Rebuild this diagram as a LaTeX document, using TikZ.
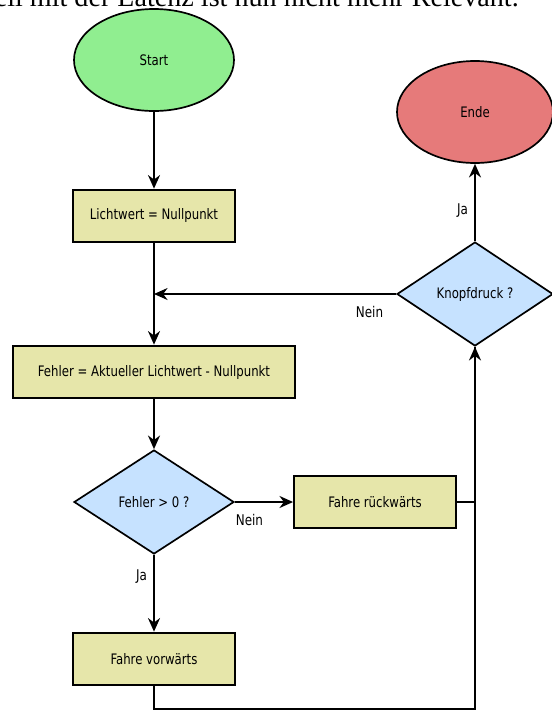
\documentclass[tikz,border=0pt]{standalone}
\usepackage{fontspec}
\setmainfont{DejaVu Sans Condensed}[FakeStretch=0.9]
\newfontfamily\notefont{Liberation Serif}
\usetikzlibrary{shapes.geometric, arrows, arrows.meta, positioning}
\definecolor{startc}{RGB}{144, 238, 144}
\definecolor{endc}{RGB}{230, 122, 122}
\definecolor{stepc}{RGB}{230, 230, 170}
\definecolor{decide}{RGB}{198, 226, 255}

\begin{document}
\begin{tikzpicture}[
    terminal/.style={ellipse, draw, line width=1.2pt, minimum width=4cm, minimum height=2.55cm, font=\fontsize{10.3}{12}\selectfont},
    stepbox/.style={rectangle, draw, line width=1.3pt, minimum height=1.32cm, minimum width=4.05cm, text centered, font=\fontsize{10.3}{12}\selectfont},
    decision/.style={diamond, draw, line width=1.2pt, minimum width=4cm, minimum height=2.6cm, inner sep=0pt, font=\fontsize{10.3}{12}\selectfont},
    lbl/.style={font=\fontsize{10.5}{12}\selectfont},
    arrow/.style={-{Stealth[length=3.4mm, width=3mm]}, line width=1.3pt},
    line/.style={line width=1.3pt}
]
\useasboundingbox (0,0) rectangle (13.8,-17.775);
\clip (0,0) rectangle (13.8,-17.775);

% cut-off line of text above the chart
\node[anchor=base east, inner sep=0pt, font=\notefont\fontsize{20}{24}\selectfont] (note) at (12.975,-0.17) {Stell mit der Latenz ist nun nicht mehr Relevant.};

% Start and end
\node[terminal, fill=startc] (start) at (3.85,-1.5) {Start};
\node[terminal, fill=endc, minimum width=3.9cm] (ende) at (11.875,-2.8) {Ende};

% Main column
\node[stepbox, fill=stepc] (licht) at (3.85,-5.4) {Lichtwert = Nullpunkt};
\node[stepbox, fill=stepc, minimum width=7.05cm] (fehler) at (3.85,-9.3) {Fehler = Aktueller Lichtwert - Nullpunkt};
\node[decision, fill=decide] (check) at (3.85,-12.55) {Fehler > 0 ?};
\node[stepbox, fill=stepc] (vor) at (3.85,-16.475) {Fahre vorwärts};

% Right branch
\node[stepbox, fill=stepc] (rueck) at (9.375,-12.55) {Fahre rückwärts};
\node[decision, fill=decide, minimum width=3.9cm] (knopf) at (11.875,-7.35) {Knopfdruck ?};

% Junction points
\coordinate (merge) at (licht.south |- knopf.west);
\coordinate (corner) at (vor.south |- 0,-17.725);

% Main flow arrows
\draw[arrow] (start.south) -- (licht.north);
\draw[arrow] (licht.south) -- (fehler.north);
\draw[arrow] (fehler.south) -- (check.north);
\draw[arrow] (check.south) -- node[lbl, left, pos=0.28, xshift=-1pt] {Ja} (vor.north);
\draw[arrow] (check.east) -- node[lbl, below, pos=0.25, yshift=-5pt] {Nein} (rueck.west);

% Loop back to the button check
\draw[line] (vor.south) -- (corner) -| (knopf.south);
\draw[arrow] (corner -| knopf.south) -- (knopf.south);
\draw[line] (rueck.east) -- (rueck.east -| knopf.south);

% Button check
\draw[arrow] (knopf.north) -- node[lbl, left, pos=0.4, xshift=-1pt] {Ja} (ende.south);
\draw[arrow] (knopf.west) -- node[lbl, below, pos=0.11, yshift=-5pt] {Nein} (merge);

\end{tikzpicture}
\end{document}
